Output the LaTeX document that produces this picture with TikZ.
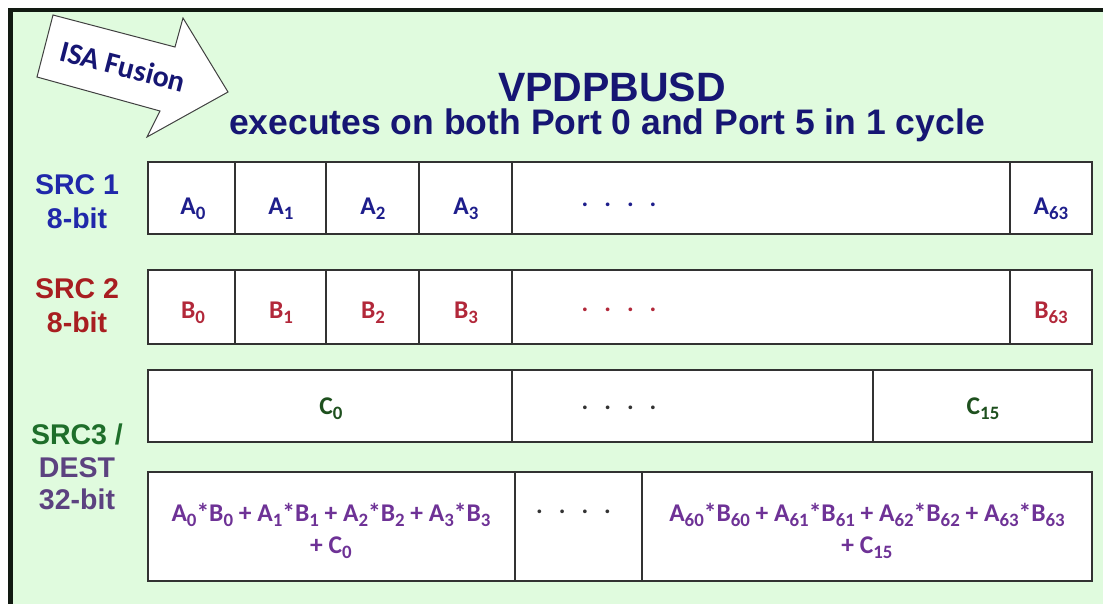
\documentclass[tikz,border=0pt]{standalone}
\usepackage{fontspec}
\setmainfont{Liberation Sans}
\newfontfamily\calfont{Carlito}
\newcommand\sbs[1]{\raisebox{-0.2em}{\scalebox{0.74}{#1}}}
\definecolor{bgc}{RGB}{224,251,222}
\definecolor{framec}{RGB}{18,26,18}
\definecolor{navy}{RGB}{22,22,115}
\definecolor{lblue}{RGB}{32,40,170}
\definecolor{ablue}{RGB}{30,30,140}
\definecolor{lred}{RGB}{168,30,32}
\definecolor{bred}{RGB}{178,40,58}
\definecolor{lgreen}{RGB}{30,110,42}
\definecolor{cgreen}{RGB}{30,80,30}
\definecolor{lpurple}{RGB}{92,66,128}
\definecolor{dpurple}{RGB}{110,50,150}
\definecolor{cellline}{RGB}{50,50,50}
\begin{document}
\begin{tikzpicture}[x=1pt,y=-1pt,
  cellbox/.style={draw=cellline, fill=white, line width=1.4pt, inner sep=0pt, minimum height=#1},
  celltxt/.style={inner sep=0pt, font=\calfont\bfseries\fontsize{25.5}{32}\selectfont, align=center},
  dotstxt/.style={inner sep=0pt, font=\calfont\bfseries\fontsize{25}{30}\selectfont},
  lbl/.style={inner sep=0pt, font=\bfseries\fontsize{28.5}{34}\selectfont, align=center},
  ttl/.style={inner sep=0pt, text=navy}
]
\useasboundingbox (0,0) rectangle (1103,603);
\clip (0,0) rectangle (1103,603);
\fill[white] (0,0) rectangle (1103,603);
\draw[line width=4.5pt, draw=framec, fill=bgc] (10.5,10) rectangle (1130,630);

% ISA Fusion block arrow
\draw[fill=white, draw=black!75, line width=1pt, line join=miter]
  (53,15) -- (175,47) -- (183,18) -- (228,92) -- (147,137) -- (160,111) -- (37,77) -- cycle;
\node[rotate=-14.5, inner sep=0pt, text=navy, font=\calfont\bfseries\fontsize{30}{32}\selectfont] (isa) at (123,66) {ISA Fusion};

% title
\node[ttl, font=\bfseries\fontsize{41}{44}\selectfont] (title) at (612,87) {VPDPBUSD};
\node[ttl, font=\bfseries\fontsize{35.5}{40}\selectfont] (subtitle) at (607,125) {executes on both Port 0 and Port 5 in 1 cycle};

% row labels
\node[lbl, text=lblue] (l1) at (77,202) {SRC 1\\8-bit};
\node[lbl, text=lred] (l2) at (77,306) {SRC 2\\8-bit};
\node[lbl, font=\bfseries\fontsize{28.5}{32.5}\selectfont] (l3) at (77,467)
  {\textcolor{lgreen}{SRC3 /}\\\textcolor{lpurple}{DEST}\\\textcolor{lpurple}{32-bit}};

% SRC 1 row
\node[cellbox=72, minimum width=87] (a0) at (191.5,198) {};
\node[cellbox=72, minimum width=91] (a1) at (280.5,198) {};
\node[cellbox=72, minimum width=93] (a2) at (372.5,198) {};
\node[cellbox=72, minimum width=93] (a3) at (465.5,198) {};
\node[cellbox=72, minimum width=498] (ad) at (761,198) {};
\node[cellbox=72, minimum width=82] (a63) at (1051,198) {};
\node[celltxt, text=ablue] (ta0) at (193,209) {A\sbs{0}};
\node[celltxt, text=ablue] (ta1) at (281,209) {A\sbs{1}};
\node[celltxt, text=ablue] (ta2) at (373,209) {A\sbs{2}};
\node[celltxt, text=ablue] (ta3) at (466,209) {A\sbs{3}};
\node[dotstxt, text=ablue] (tad) at (619,205) {.\hspace{16pt}.\hspace{16pt}.\hspace{16pt}.};
\node[celltxt, text=ablue] (ta63) at (1051,209) {A\sbs{63}};

% SRC 2 row
\node[cellbox=74, minimum width=87] (b0) at (191.5,307) {};
\node[cellbox=74, minimum width=91] (b1) at (280.5,307) {};
\node[cellbox=74, minimum width=93] (b2) at (372.5,307) {};
\node[cellbox=74, minimum width=93] (b3) at (465.5,307) {};
\node[cellbox=74, minimum width=498] (bd) at (761,307) {};
\node[cellbox=74, minimum width=82] (b63) at (1051,307) {};
\node[celltxt, text=bred] (tb0) at (193,313) {B\sbs{0}};
\node[celltxt, text=bred] (tb1) at (281,313) {B\sbs{1}};
\node[celltxt, text=bred] (tb2) at (373,313) {B\sbs{2}};
\node[celltxt, text=bred] (tb3) at (466,313) {B\sbs{3}};
\node[dotstxt, text=bred] (tbd) at (619,310) {.\hspace{16pt}.\hspace{16pt}.\hspace{16pt}.};
\node[celltxt, text=bred] (tb63) at (1051,313) {B\sbs{63}};

% SRC3 row
\node[cellbox=72, minimum width=364] (c0) at (330,406) {};
\node[cellbox=72, minimum width=361] (cd) at (692.5,406) {};
\node[cellbox=72, minimum width=219] (c15) at (982.5,406) {};
\node[celltxt, text=cgreen] (tc0) at (331,409) {C\sbs{0}};
\node[dotstxt, text=black!80] (tcd) at (619,408) {.\hspace{16pt}.\hspace{16pt}.\hspace{16pt}.};
\node[celltxt, text=cgreen] (tc15) at (983,409) {C\sbs{15}};

% DEST row
\node[cellbox=109, minimum width=367] (d0) at (331.5,526.5) {};
\node[cellbox=109, minimum width=127] (dd) at (578.5,526.5) {};
\node[cellbox=109, minimum width=450] (d15) at (867,526.5) {};
\node[celltxt, text=dpurple] (td0) at (331,531)
  {A\sbs{0}*B\sbs{0} + A\sbs{1}*B\sbs{1} + A\sbs{2}*B\sbs{2} + A\sbs{3}*B\sbs{3}\\+ C\sbs{0}};
\node[dotstxt, text=black!80] (tdd) at (573.5,512) {.\hspace{16pt}.\hspace{16pt}.\hspace{16pt}.};
\node[celltxt, text=dpurple] (td15) at (867,531)
  {A\sbs{60}*B\sbs{60} + A\sbs{61}*B\sbs{61} + A\sbs{62}*B\sbs{62} + A\sbs{63}*B\sbs{63}\\+ C\sbs{15}};
\end{tikzpicture}
\end{document}
